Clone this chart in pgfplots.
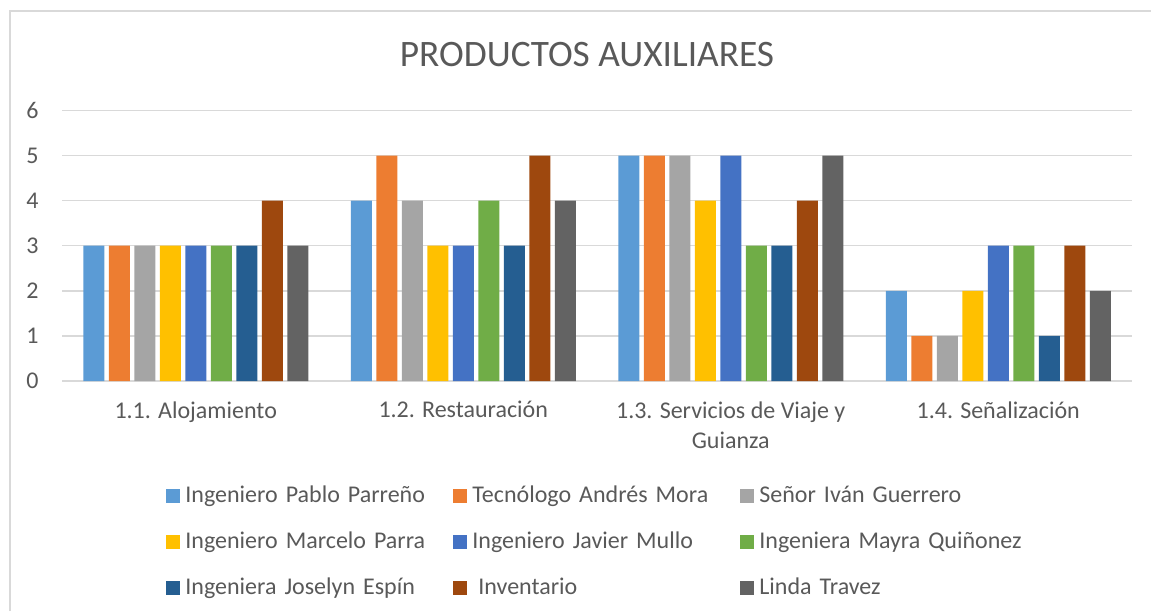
\documentclass[border=0pt]{standalone}
\usepackage{fontspec}
\setmainfont{Carlito}
\usepackage{pgfplots}
\pgfplotsset{compat=1.18}
\definecolor{c1}{HTML}{5B9BD5}
\definecolor{c2}{HTML}{ED7D31}
\definecolor{c3}{HTML}{A5A5A5}
\definecolor{c4}{HTML}{FFC000}
\definecolor{c5}{HTML}{4472C4}
\definecolor{c6}{HTML}{70AD47}
\definecolor{c7}{HTML}{255E91}
\definecolor{c8}{HTML}{9E480E}
\definecolor{c9}{HTML}{636363}
\definecolor{txtgray}{HTML}{595959}
\definecolor{gridgray}{HTML}{D9D9D9}

\begin{document}
\begin{tikzpicture}
\path[use as bounding box] (0,0) rectangle (575.5pt,305.5pt);
\draw[gridgray, line width=0.8pt] (5pt,0) -- (5pt,300pt) -- (575.5pt,300pt);
\node[text=txtgray, font=\fontsize{18.67}{22}\selectfont] at (293.5pt,278pt) {PRODUCTOS AUXILIARES};
\begin{axis}[
  at={(31pt,115pt)}, anchor=south west,
  width=535pt, height=135.3pt, scale only axis,
  ybar=2.25pt, bar width=10.5pt,
  every axis plot post/.append style={
    legend image code/.code={\fill[##1,draw=none] (0pt,-3.5pt) rectangle (7pt,3.5pt);}},
  xmin=-0.5, xmax=3.5, ymin=0, ymax=6,
  xtick={0,1,2,3},
  xticklabels={1.1. Alojamiento, 1.2. Restauración, {1.3. Servicios de Viaje y\\Guianza}, 1.4. Señalización},
  ytick={0,1,...,6},
  major tick length=0pt,
  axis line style={draw=none},
  ymajorgrids, grid style={color=gridgray, line width=0.75pt},
  tick label style={font=\fontsize{12}{15}\selectfont, text=txtgray},
  /pgf/number format/assume math mode=true,
  xticklabel style={align=center, anchor=north, inner sep=0pt, yshift=-10pt},
  yticklabel style={anchor=east, inner sep=0pt, xshift=-11.5pt},
  legend columns=3,
  legend cell align=left,
  legend style={draw=none, fill=none, at={(0.0972,-0.381)}, anchor=north west,
    inner sep=0pt, column sep=2.5pt, row sep=11pt,
    font=\fontsize{12}{15}\selectfont, text=txtgray,
    nodes={inner sep=0pt, text width=131.5pt, text height=9pt, text depth=3pt, align=left}},
]
\addplot[fill=c1, draw=none] coordinates {(0,3) (1,4) (2,5) (3,2)};
\addplot[fill=c2, draw=none] coordinates {(0,3) (1,5) (2,5) (3,1)};
\addplot[fill=c3, draw=none] coordinates {(0,3) (1,4) (2,5) (3,1)};
\addplot[fill=c4, draw=none] coordinates {(0,3) (1,3) (2,4) (3,2)};
\addplot[fill=c5, draw=none] coordinates {(0,3) (1,3) (2,5) (3,3)};
\addplot[fill=c6, draw=none] coordinates {(0,3) (1,4) (2,3) (3,3)};
\addplot[fill=c7, draw=none] coordinates {(0,3) (1,3) (2,3) (3,1)};
\addplot[fill=c8, draw=none] coordinates {(0,4) (1,5) (2,4) (3,3)};
\addplot[fill=c9, draw=none] coordinates {(0,3) (1,4) (2,5) (3,2)};
\legend{Ingeniero Pablo Parreño, Tecnólogo Andrés Mora, Señor Iván Guerrero,
  Ingeniero Marcelo Parra, Ingeniero Javier Mullo, Ingeniera Mayra Quiñonez,
  Ingeniera Joselyn Espín, \hspace{3pt}Inventario, Linda Travez}
\end{axis}
\end{tikzpicture}
\end{document}
